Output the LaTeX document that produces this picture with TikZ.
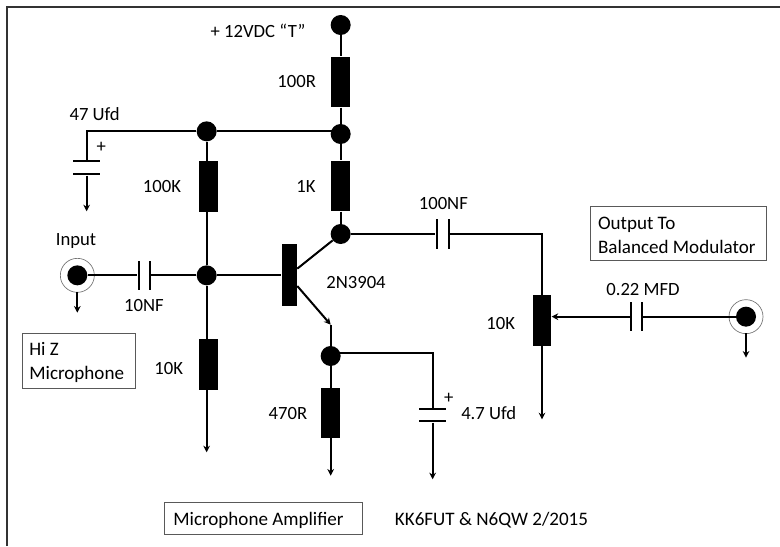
\documentclass[tikz,border=0pt]{standalone}
\usepackage{fontspec}
\setmainfont{Carlito}
\usetikzlibrary{arrows.meta}
\tikzstyle{input} = [coordinate]
\tikzstyle{output} = [coordinate]
\tikzstyle{joint} = [circle, fill=black, inner sep=0pt, minimum size=15pt]
\tikzstyle{ring} = [circle, draw=black!55, line width=0.5pt, inner sep=0pt, minimum size=25.5pt]
\tikzstyle{resistor} = [rectangle, fill=black, inner sep=0pt, minimum width=14pt, minimum height=38pt]
\tikzstyle{basebar} = [rectangle, fill=black, inner sep=0pt, minimum width=11.5pt, minimum height=46.5pt]
\tikzstyle{plateV} = [rectangle, fill=black, inner sep=0pt, minimum width=1.5pt, minimum height=22pt]
\tikzstyle{plateH} = [rectangle, fill=black, inner sep=0pt, minimum width=20.5pt, minimum height=1.5pt]
\tikzstyle{tag} = [inner sep=0pt, font=\fontsize{14}{17}\selectfont]
\tikzstyle{note} = [draw=black!65, line width=0.5pt, inner sep=0pt, text height=12.5pt, align=flush left, font=\fontsize{14.3}{17.5}\selectfont]
\tikzstyle{wire} = [line width=1.5pt]

\begin{document}
\begin{tikzpicture}[node distance=30pt, >={Stealth[length=5pt,width=5pt]}]
		\useasboundingbox (0,0) rectangle (585pt,-409.5pt);
		\coordinate (frameA) at (5.25pt,-409.5pt);
		\coordinate (frameB) at (5.25pt,-5.25pt);
		\coordinate (frameC) at (585pt,-5.25pt);
		\draw [line width=1pt, black!80] (frameA) -- (frameB) -- (frameC);

		% supply rail and collector side
		\node [joint] (supply) at (255.5pt,-18.75pt) {};
		\node [resistor, below of=supply, node distance=42.75pt] (r100) {};
		\node [joint, below of=r100, node distance=39pt] (rail) {};
		\node [resistor, below of=rail, node distance=39pt] (r1k) {};
		\node [joint, below of=r1k, node distance=36pt] (collector) {};
		\node [joint, left of=rail, node distance=100.5pt, yshift=2pt] (railb) {};
		\node [input, left of=railb, node distance=90pt] (corner47) {};
		\node [plateH, below of=corner47, node distance=22.5pt] (c47a) {};
		\node [plateH, below of=c47a, node distance=9.75pt] (c47b) {};
		\node [output, below of=c47b, node distance=27.75pt] (gnd47) {};

		% base side
		\node [resistor, below of=railb, node distance=41.25pt, xshift=1.5pt] (r100k) {};
		\node [joint, below of=railb, node distance=108pt] (base) {};
		\node [resistor, below of=base, node distance=66.75pt, xshift=1.5pt] (r10k) {};
		\node [output, below of=r10k, node distance=66pt] (gnd10k) {};
		\node [basebar, right of=base, node distance=62pt] (bar) {};
		\node [plateV, left of=base, node distance=42.75pt] (c10b) {};
		\node [plateV, left of=c10b, node distance=8.25pt] (c10a) {};
		\node [joint, left of=c10a, node distance=46pt] (micjack) {};
		\node [ring] (micring) at (micjack) {};
		\node [output, below of=micjack, node distance=28pt] (gndmic) {};

		% emitter side
		\node [input, right of=bar, node distance=31pt, yshift=-37pt] (emitter) {};
		\node [joint, below of=emitter, node distance=23.5pt] (emj) {};
		\node [resistor, below of=emj, node distance=42.75pt] (r470) {};
		\node [output, below of=r470, node distance=47pt] (gnd470) {};
		\node [input, right of=emj, node distance=76.5pt, yshift=2pt] (corner4u) {};
		\node [plateH, below of=corner4u, node distance=42pt] (c4a) {};
		\node [plateH, below of=c4a, node distance=9pt] (c4b) {};
		\node [output, below of=c4b, node distance=43.5pt] (gnd4u) {};

		% output side
		\node [plateV, right of=collector, node distance=72pt] (c100a) {};
		\node [plateV, right of=c100a, node distance=9pt] (c100b) {};
		\node [input, right of=c100b, node distance=70pt] (corner10k) {};
		\node [resistor, below of=corner10k, node distance=65pt] (pot) {};
		\node [output, below of=pot, node distance=74pt] (gndpot) {};
		\node [plateV, right of=pot, node distance=66.75pt, yshift=3pt] (c22a) {};
		\node [plateV, right of=c22a, node distance=8.25pt] (c22b) {};
		\node [joint, right of=c22b, node distance=78pt] (outjack) {};
		\node [ring] (outring) at (outjack) {};
		\node [output, below of=outjack, node distance=30.75pt] (gndout) {};

		\draw [wire] (supply) -- (r100);
		\draw [wire] (r100) -- (rail);
		\draw [wire] (rail) -- (r1k);
		\draw [wire] (r1k) -- (collector);
		\draw [wire] (railb -| rail) -- (railb);
		\draw [wire] (railb) -- (corner47) -- (c47a);
		\draw [wire, ->] (c47b) -- (gnd47);
		\draw [wire] (railb) -- (base);
		\draw [wire, ->] (base) -- (gnd10k -| base);
		\draw [wire] (micjack) -- (c10a);
		\draw [wire] (c10b) -- (base);
		\draw [wire] (base) -- (bar);
		\draw [wire, ->] (micjack) ++(0,-12.5pt) -- (gndmic);
		\draw [wire] (bar.east |- collector) ++(0,-26pt) coordinate (cstart) -- (collector);
		\draw [wire, ->] (bar.east) ++(0,-8pt) coordinate (estart) -- (emitter);
		\draw [wire] (emitter) -- (emj);
		\draw [wire, ->] (emj) -- (gnd470);
		\draw [wire] (corner4u -| emj) -- (corner4u) -- (c4a);
		\draw [wire, ->] (c4b) -- (gnd4u);
		\draw [wire] (collector) -- (c100a);
		\draw [wire] (c100b) -- (corner10k) -- (pot);
		\draw [wire, ->] (pot) -- (gndpot);
		\draw [wire, ->] (c22a) -- (pot.east |- c22a);
		\draw [wire] (c22b) -- (outjack);
		\draw [wire, ->] (outjack) ++(0,-12.5pt) -- (gndout);

		% labels
		\node [tag, left of=supply, node distance=62pt, yshift=-4.5pt] (lsupply) {+ 12VDC “T”};
		\node [tag, left of=r100, node distance=33pt] (l100r) {100R};
		\node [tag, above of=corner47, node distance=13pt, xshift=6pt] (l47) {47 Ufd};
		\node [tag, right of=corner47, node distance=11pt, yshift=-12pt] (lp47) {+};
		\node [tag, left of=r100k, node distance=35pt] (l100k) {100K};
		\node [tag, left of=r1k, node distance=26pt] (l1k) {1K};
		\node [tag, above of=micjack, node distance=26pt, xshift=-1pt] (linput) {Input};
		\node [tag, below of=c10a, node distance=23pt, xshift=4pt] (l10nf) {10NF};
		\node [tag, right of=bar, node distance=50pt, yshift=-5.5pt] (l3904) {2N3904};
		\node [tag, left of=r10k, node distance=30pt, yshift=-3pt] (l10k) {10K};
		\node [tag, left of=r470, node distance=32pt] (l470) {470R};
		\node [tag, right of=c4a, node distance=42pt, yshift=-3pt] (l47u) {4.7 Ufd};
		\node [tag, right of=corner4u, node distance=12pt, yshift=-33.5pt] (lp4) {+};
		\node [tag, above of=c100a, node distance=23pt, xshift=5pt] (l100nf) {100NF};
		\node [tag, left of=pot, node distance=31pt, yshift=-2pt] (lpot) {10K};
		\node [tag, above of=c22a, node distance=20pt, xshift=9pt] (l22) {0.22 MFD};
		\node [tag, font=\fontsize{14.3}{17}\selectfont] (lkk) at (368.6pt,-390pt) {KK6FUT \& N6QW 2/2015};

		\node [note, minimum width=85pt, minimum height=41pt, text width=74pt] (himic) at (59pt,-270.5pt) {Hi Z\\Microphone};
		\node [note, minimum width=149pt, minimum height=24pt, text width=135pt] (amp) at (197.5pt,-389pt) {Microphone Amplifier};
		\node [note, minimum width=132pt, minimum height=41pt, text width=121pt] (outbox) at (509pt,-175pt) {Output To\\Balanced Modulator};
\end{tikzpicture}
\end{document}
